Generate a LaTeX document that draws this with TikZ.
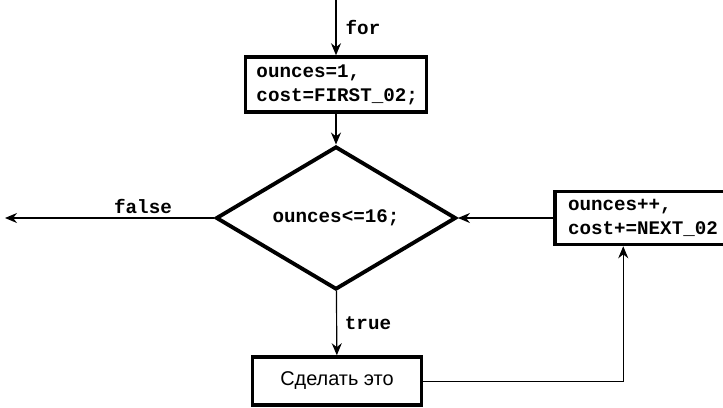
\documentclass[tikz,border=0pt]{standalone}
\usepackage{fontspec}
\setmonofont{Liberation Mono}
\setsansfont{Liberation Sans}
\usetikzlibrary{arrows.meta,shapes.geometric}

\begin{document}
\begin{tikzpicture}[x=0.03cm,y=-0.03cm,
  box/.style={draw,line width=3pt,inner xsep=0.33cm,inner ysep=0pt,align=left,
    font=\ttfamily\bfseries\fontsize{16.4}{20.5}\selectfont},
  cond/.style={draw,diamond,line width=3.3pt,minimum width=7.2cm,minimum height=3.75cm,
    inner sep=0pt,font=\ttfamily\bfseries\fontsize{16.4}{20.5}\selectfont},
  conn/.style={-{Stealth[length=0.36cm,width=0.3cm]},line width=1pt},
  lbl/.style={font=\ttfamily\bfseries\fontsize{16.4}{20.5}\selectfont}]
\useasboundingbox (0,0) rectangle (723,407);
\clip (0,0) rectangle (723,407);
\coordinate (S) at (336,0);
\coordinate (F) at (5,218);
\node[box,text width=4.77cm,minimum height=1.65cm] (init) at (336,84.5) {ounces=1,\\cost=FIRST\_02;};
\node[cond] (test) at (336,218) {ounces<=16;};
\node[box,text width=4.5cm,inner xsep=0.39cm,minimum height=1.59cm] (incr) at (643,218) {ounces++,\\cost+=NEXT\_02};
\node[box,minimum width=5.07cm,minimum height=1.44cm,font=\sffamily\fontsize{17}{20}\selectfont] (body) at (337,381) {Сделать это};
\draw[conn] (S) -- (init);
\node[lbl] at (363,27) {for};
\draw[conn] (init) -- (test);
\draw[conn] (test) -- (F);
\node[lbl] at (143,206) {false};
\draw[conn] (incr) -- (test);
\draw[conn] (test) -- (body);
\node[lbl] at (368,323) {true};
\draw[conn,line width=0.7pt] (body.east) -| ([xshift=2.1cm]incr.south west);
\end{tikzpicture}
\end{document}
